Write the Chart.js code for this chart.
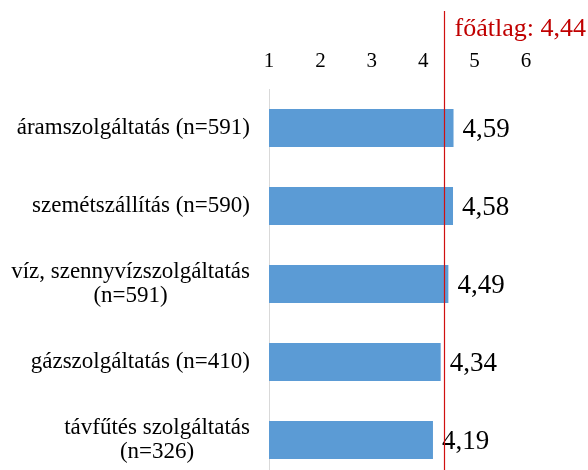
<!DOCTYPE html>
<html>
<head>
<meta charset="utf-8">
<script src="https://cdn.jsdelivr.net/npm/chart.js@4"></script>
<style>
  html, body { margin: 0; padding: 0; background: #fff; overflow: hidden; }
  #wrap { width: 588px; height: 480px; }
</style>
</head>
<body>
<div id="wrap"><canvas id="myChart"></canvas></div>
<script>
  const labels = [
    ['áramszolgáltatás (n=591)'],
    ['szemétszállítás (n=590)'],
    ['víz, szennyvízszolgáltatás', '(n=591)'],
    ['gázszolgáltatás (n=410)'],
    ['távfűtés szolgáltatás', '(n=326)'],
  ];
  const values = [4.59, 4.58, 4.49, 4.34, 4.19];
  const tickValues = [1, 2, 3, 4, 5, 6];
  const meanValue = 4.44;
  const meanLabel = 'főátlag: 4,44';

  const serif = '"Liberation Serif", "Times New Roman", serif';

  // category labels + value labels + mean line
  const extras = {
    id: 'extras',
    afterDatasetsDraw(chart) {
      const ctx = chart.ctx;
      const x = chart.scales.x;
      const y = chart.scales.y;
      ctx.save();

      // category labels: block right aligned, lines centred in block
      ctx.fillStyle = '#000';
      ctx.font = '23px ' + serif;
      ctx.textBaseline = 'middle';
      ctx.textAlign = 'center';
      labels.forEach((lines, i) => {
        const cy = y.getPixelForValue(i);
        const w = Math.max(...lines.map(l => ctx.measureText(l).width));
        const cx = 250 - w / 2;
        const lh = 24;
        const top = cy - (lines.length - 1) * lh / 2;
        lines.forEach((l, j) => ctx.fillText(l, cx, top + j * lh));
      });

      // value labels
      ctx.font = '27px ' + serif;
      ctx.textAlign = 'left';
      values.forEach((v, i) => {
        const px = x.getPixelForValue(v);
        const py = y.getPixelForValue(i);
        ctx.fillText(v.toFixed(2).replace('.', ','), px + 9, py + 2);
      });

      // mean line
      const mx = Math.round(x.getPixelForValue(meanValue)) - 1.5;
      ctx.strokeStyle = '#d01010';
      ctx.lineWidth = 1.2;
      ctx.beginPath();
      ctx.moveTo(mx, 11);
      ctx.lineTo(mx, chart.height);
      ctx.stroke();
      ctx.font = '26px ' + serif;
      ctx.fillStyle = '#c00000';
      ctx.textBaseline = 'alphabetic';
      ctx.fillText(meanLabel, mx + 10, 36);
      ctx.restore();
    }
  };

  const data = {
    labels: labels,
    datasets: [{
      data: values,
      backgroundColor: '#5B9BD5',
      borderWidth: 0,
      categoryPercentage: 1,
      barPercentage: 0.49,
    }]
  };

  const config = {
    type: 'bar',
    data: data,
    options: {
      indexAxis: 'y',
      responsive: true,
      maintainAspectRatio: false,
      animation: false,
      layout: { padding: { left: 269, right: 62, top: 49, bottom: 1 } },
      plugins: { legend: { display: false }, tooltip: { enabled: false } },
      scales: {
        x: {
          position: 'top',
          min: 1,
          max: 6,
          afterBuildTicks(scale) {
            scale.ticks = tickValues.map(v => ({ value: v }));
          },
          afterFit(scale) { scale.height = 40; },
          grid: { display: false },
          border: { display: false },
          ticks: {
            padding: 7,
            color: '#000',
            maxRotation: 0,
            font: { family: serif, size: 21 },
          }
        },
        y: {
          afterFit(scale) { scale.width = 0; },
          grid: { display: false },
          border: { display: true, color: '#d9d9d9', width: 1 },
          ticks: { display: false }
        }
      }
    },
    plugins: [extras]
  };

  const myChart = new Chart(document.getElementById('myChart'), config);
</script>
</body>
</html>
